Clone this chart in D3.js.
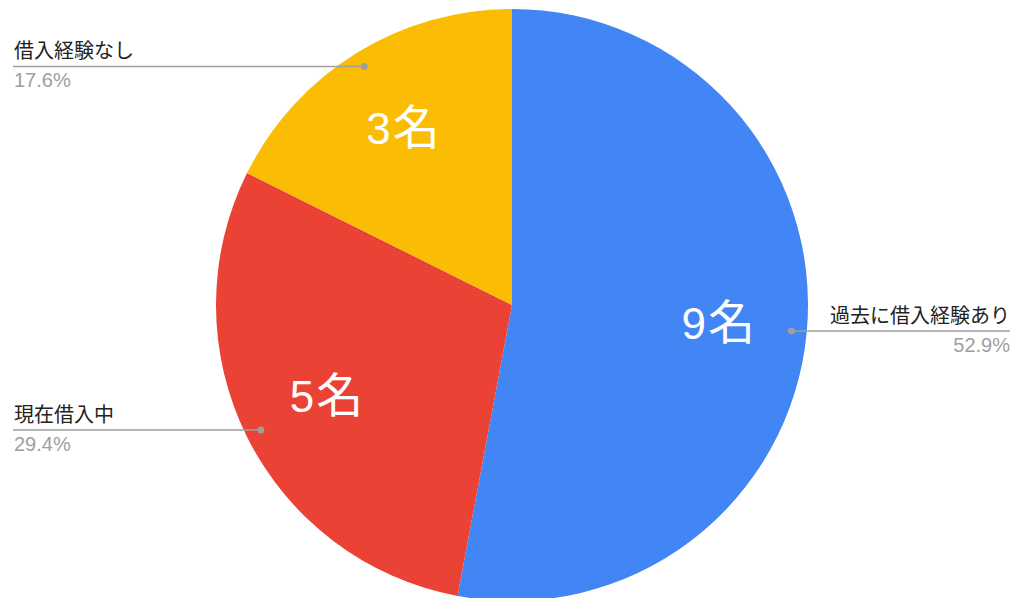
<!DOCTYPE html>
<html>
<head>
<meta charset="utf-8">
<script src="https://cdn.jsdelivr.net/npm/d3@7"></script>
<style>
  body { margin: 0; background: #fff; }
  svg { display: block; font-family: "Liberation Sans", Arial, "Noto Sans CJK JP", sans-serif; }
</style>
</head>
<body>
<svg id="chart"></svg>
<script>
"use strict";

// =================== DATA ===================
const categories = ["過去に借入経験あり", "現在借入中", "借入経験なし"];
const counts = [9, 5, 3];
const colors = ["#4285F4", "#EA4335", "#FBBC04"];

// =================== SETUP ===================
const W = 1017, H = 598;
const cx = 512, cy = 305, radius = 296;

const svg = d3.select("#chart").attr("width", W).attr("height", H);
const g = svg.append("g").attr("transform", `translate(${cx},${cy})`);

const total = d3.sum(counts);
const pie = d3.pie().sort(null).value(d => d.count);
const arcs = pie(categories.map((c, i) => ({ name: c, count: counts[i], color: colors[i] })));

const arc = d3.arc().innerRadius(0).outerRadius(radius);
const labelArc = d3.arc().innerRadius(radius * 0.7).outerRadius(radius * 0.7);
const dotArc = d3.arc().innerRadius(radius * 0.948).outerRadius(radius * 0.948);

// slices
g.selectAll("path.slice")
  .data(arcs)
  .enter()
  .append("path")
  .attr("class", "slice")
  .attr("d", arc)
  .attr("fill", d => d.data.color);

// inner labels
const inner = g.selectAll("text.inner")
  .data(arcs)
  .enter()
  .append("text")
  .attr("class", "inner")
  .attr("transform", d => `translate(${labelArc.centroid(d)})`)
  .attr("text-anchor", "middle")
  .attr("dy", "0.34em")
  .style("font-size", "44px")
  .style("fill", "#fff");
inner.append("tspan").text(d => d.data.count);
inner.append("tspan").attr("dx", 2).style("font-size", "47px").text("名");

// =================== LEADER LABELS ===================
const pct = d3.format(".1%");
const leftEdge = 13 - cx, rightEdge = 1010 - cx;

arcs.forEach(d => {
  const [px, py] = dotArc.centroid(d);
  const mid = (d.startAngle + d.endAngle) / 2;
  const onRight = mid < Math.PI;
  const x2 = onRight ? rightEdge : leftEdge;
  const anchor = onRight ? "end" : "start";
  const tx = onRight ? rightEdge : leftEdge + 1;

  g.append("line")
    .attr("x1", px).attr("y1", py)
    .attr("x2", x2).attr("y2", py)
    .attr("stroke", "#9e9e9e")
    .attr("stroke-width", 1.5);

  g.append("circle")
    .attr("cx", px).attr("cy", py)
    .attr("r", 3.5)
    .attr("fill", "#9e9e9e");

  g.append("text")
    .attr("x", tx).attr("y", py - 8)
    .attr("text-anchor", anchor)
    .style("font-size", "20px")
    .style("fill", "#222")
    .text(d.data.name);

  g.append("text")
    .attr("x", tx).attr("y", py + 21)
    .attr("text-anchor", anchor)
    .style("font-size", "20px")
    .style("fill", "#a0a0a0")
    .text(pct(d.data.count / total));
});
</script>
</body>
</html>
